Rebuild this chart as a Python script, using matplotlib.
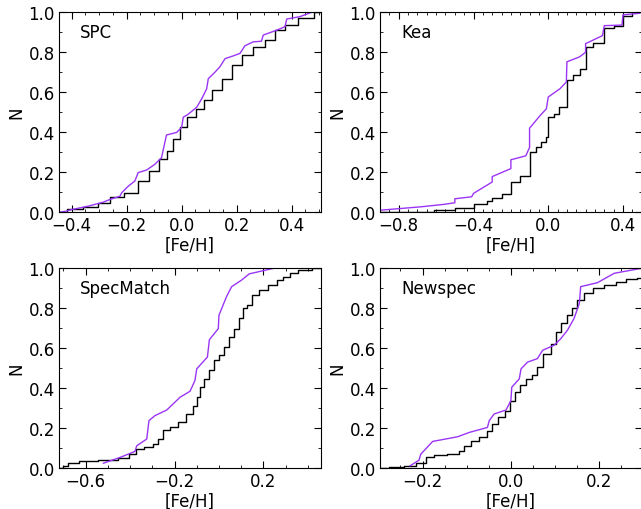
import matplotlib
matplotlib.use('Agg')
import matplotlib.pyplot as plt
from matplotlib.ticker import MultipleLocator

# Cumulative distributions of [Fe/H]
# black = reference sample (step), purple = comparison sample (line)

# SPC
spc_ref_x = [-0.43, -0.40, -0.32, -0.285, -0.236, -0.18, -0.14, -0.097, -0.067, -0.042,
             -0.018, 0.006, 0.036, 0.067, 0.097, 0.127, 0.164, 0.20, 0.236, 0.285,
             0.321, 0.358, 0.394, 0.455, 0.505]
spc_ref_y = [0.0, 0.017, 0.027, 0.044, 0.077, 0.097, 0.156, 0.206, 0.265, 0.307,
             0.366, 0.424, 0.475, 0.517, 0.559, 0.609, 0.668, 0.735, 0.785, 0.827,
             0.861, 0.911, 0.936, 0.97, 1.0]
spc_cmp_x = [-0.446, -0.42, -0.40, -0.34, -0.285, -0.26, -0.224, -0.218, -0.194, -0.17,
             -0.158, -0.127, -0.097, -0.073, -0.061, -0.055, -0.018, 0.0, 0.006, 0.024,
             0.055, 0.073, 0.091, 0.097, 0.121, 0.139, 0.158, 0.188, 0.212, 0.23,
             0.26, 0.29, 0.297, 0.345, 0.376, 0.382, 0.43, 0.473]
spc_cmp_y = [0.0, 0.005, 0.013, 0.03, 0.05, 0.064, 0.08, 0.097, 0.13, 0.156,
             0.198, 0.211, 0.24, 0.273, 0.349, 0.386, 0.399, 0.424, 0.475, 0.49,
             0.525, 0.567, 0.617, 0.668, 0.70, 0.727, 0.768, 0.782, 0.794, 0.832,
             0.852, 0.855, 0.886, 0.91, 0.928, 0.966, 0.978, 1.0]

# Kea
kea_ref_x = [-0.9, -0.61, -0.5, -0.4, -0.33, -0.3, -0.25, -0.2, -0.15, -0.1,
             -0.065, -0.04, -0.01, 0.0, 0.03, 0.06, 0.1, 0.135, 0.17, 0.2,
             0.24, 0.3, 0.35, 0.4, 0.45]
kea_ref_y = [0.0, 0.01, 0.022, 0.039, 0.055, 0.072, 0.089, 0.106, 0.181, 0.211,
             0.324, 0.349, 0.374, 0.475, 0.49, 0.525, 0.559, 0.685, 0.718, 0.743,
             0.844, 0.872, 0.933, 0.94, 0.99]
kea_ref_jump = [(-0.2, 0.151), (-0.1, 0.299), (0.0, 0.475), (0.1, 0.66),
                (0.2, 0.827), (0.3, 0.923), (0.4, 0.983)]
kea_cmp_x = [-0.897, -0.68, -0.56, -0.5, -0.5, -0.41, -0.4, -0.33, -0.3, -0.3,
             -0.2, -0.2, -0.12, -0.1, -0.1, -0.044, -0.01, 0.0, 0.062, 0.097,
             0.1, 0.168, 0.2, 0.2, 0.29, 0.3, 0.395, 0.4, 0.49]
kea_cmp_y = [0.01, 0.027, 0.039, 0.047, 0.067, 0.077, 0.094, 0.134, 0.151, 0.178,
             0.218, 0.262, 0.282, 0.324, 0.42, 0.483, 0.517, 0.576, 0.617, 0.651,
             0.752, 0.777, 0.80, 0.843, 0.883, 0.933, 0.936, 0.987, 0.995]

# SpecMatch
sm_ref_x = [-0.715, -0.693, -0.663, -0.595, -0.49, -0.415, -0.393, -0.355, -0.318, -0.28,
            -0.265, -0.235, -0.205, -0.168, -0.13, -0.108, -0.093, -0.078, -0.055, -0.033,
            -0.01, 0.012, 0.034, 0.057, 0.079, 0.102, 0.117, 0.139, 0.162, 0.2,
            0.244, 0.274, 0.304, 0.334, 0.379, 0.46]
sm_ref_y = [0.0, 0.012, 0.028, 0.034, 0.04, 0.05, 0.07, 0.095, 0.104, 0.12,
            0.146, 0.19, 0.204, 0.229, 0.271, 0.313, 0.355, 0.405, 0.447, 0.489,
            0.543, 0.565, 0.606, 0.657, 0.698, 0.749, 0.799, 0.816, 0.866, 0.891,
            0.916, 0.941, 0.958, 0.975, 0.992, 1.0]
sm_cmp_x = [-0.52, -0.445, -0.378, -0.37, -0.325, -0.315, -0.288, -0.235, -0.175, -0.13,
            -0.108, -0.1, -0.052, -0.043, -0.003, 0.0, 0.034, 0.057, 0.102, 0.136,
            0.247]
sm_cmp_y = [0.025, 0.054, 0.084, 0.112, 0.146, 0.238, 0.263, 0.291, 0.355, 0.385,
            0.439, 0.497, 0.556, 0.643, 0.698, 0.765, 0.858, 0.908, 0.941, 0.972,
            1.0]

# Newspec
ns_ref_x = [-0.296, -0.257, -0.226, -0.204, -0.181, -0.166, -0.121, -0.113, -0.098, -0.083,
            -0.06, -0.049, -0.038, -0.019, -0.008, 0.004, 0.015, 0.026, 0.042, 0.053,
            0.064, 0.083, 0.098, 0.106, 0.121, 0.132, 0.143, 0.158, 0.174, 0.196,
            0.226, 0.249, 0.272, 0.3]
ns_ref_y = [0.0, 0.008, 0.013, 0.028, 0.054, 0.065, 0.07, 0.087, 0.112, 0.134,
            0.154, 0.188, 0.221, 0.258, 0.288, 0.338, 0.38, 0.414, 0.447, 0.464,
            0.506, 0.573, 0.623, 0.682, 0.724, 0.766, 0.799, 0.841, 0.874, 0.90,
            0.916, 0.933, 0.945, 0.953]
ns_cmp_x = [-0.228, -0.208, -0.204, -0.177, -0.121, -0.094, -0.053, -0.049, -0.038, -0.011,
            0.0, 0.002, 0.019, 0.023, 0.038, 0.06, 0.072, 0.098, 0.113, 0.128,
            0.143, 0.155, 0.158, 0.196, 0.234, 0.296]
ns_cmp_y = [0.012, 0.04, 0.07, 0.134, 0.157, 0.179, 0.204, 0.238, 0.271, 0.291,
            0.338, 0.405, 0.447, 0.497, 0.531, 0.548, 0.59, 0.615, 0.648, 0.69,
            0.749, 0.824, 0.908, 0.928, 0.975, 1.0]

purple = '#9b35f5'

fig = plt.figure(figsize=(6.41, 5.10), dpi=100)
w, h = 0.408, 0.392
# position, name, data, xlim, (major step, major offset), minor step
panels = [
    ([0.092, 0.582, w, h], 'SPC', spc_ref_x, spc_ref_y, spc_cmp_x, spc_cmp_y,
     (-0.446, 0.505), (0.2, 0.0), 0.05),
    ([0.593, 0.582, w, h], 'Kea', kea_ref_x, kea_ref_y, kea_cmp_x, kea_cmp_y,
     (-0.9, 0.5), (0.4, 0.0), 0.05),
    ([0.092, 0.080, w, h], 'SpecMatch', sm_ref_x, sm_ref_y, sm_cmp_x, sm_cmp_y,
     (-0.72, 0.457), (0.4, 0.2), 0.1),
    ([0.593, 0.080, w, h], 'Newspec', ns_ref_x, ns_ref_y, ns_cmp_x, ns_cmp_y,
     (-0.296, 0.296), (0.2, 0.0), 0.05),
]

for pos, name, rx, ry, cx, cy, xlim, major, minor in panels:
    ax = fig.add_axes(pos)
    if name == 'Kea':
        # Kea values are quantised at 0.1 dex, so add the big jumps explicitly
        pts = sorted(list(zip(rx, ry)) + kea_ref_jump)
        rx = [p[0] for p in pts]
        ry = [p[1] for p in pts]
        ax.step(rx, ry, where='post', color='black', lw=1.0)
    else:
        ax.step(rx, ry, where='mid', color='black', lw=1.0)
    ax.plot(cx, cy, color=purple, lw=1.0)
    ax.set_xlim(*xlim)
    ax.set_ylim(0, 1.0)
    ax.xaxis.set_major_locator(MultipleLocator(major[0], offset=major[1]))
    ax.xaxis.set_minor_locator(MultipleLocator(minor))
    ax.yaxis.set_major_locator(MultipleLocator(0.2))
    ax.yaxis.set_minor_locator(MultipleLocator(0.1))
    ax.tick_params(which='both', direction='in', top=True, right=True, labelsize=12)
    ax.tick_params(which='major', length=5, pad=3)
    ax.tick_params(which='minor', length=2.5)
    ax.set_xlabel('[Fe/H]', fontsize=12, labelpad=1)
    ax.set_ylabel('N', fontsize=12, labelpad=2)
    ax.text(0.08, 0.9, name, transform=ax.transAxes, fontsize=12, va='center')

fig.savefig('out.png', dpi=100)
